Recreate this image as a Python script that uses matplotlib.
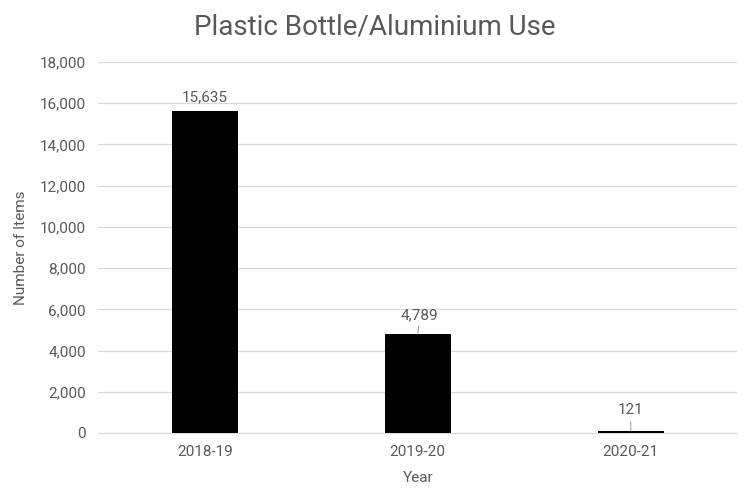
import matplotlib.pyplot as plt
from matplotlib.ticker import FuncFormatter

plt.rcParams['font.family'] = ['Roboto', 'DejaVu Sans']

# data
years = ["2018-19", "2019-20", "2020-21"]
items = [15635, 4789, 121]
yticks = list(range(0, 18001, 2000))

GREY = "#595959"
GRID = "#d9d9d9"

fig = plt.figure(figsize=(7.5, 5), dpi=100)
ax = fig.add_axes([0.131, 0.134, 0.852, 0.742])

x = list(range(len(years)))
bars = ax.bar(x, items, width=0.31, color="black", zorder=3)

ax.set_xlim(-0.5, 2.5)
ax.set_ylim(0, 18000)
ax.set_yticks(yticks)
ax.yaxis.set_major_formatter(FuncFormatter(lambda v, p: f"{int(v):,}"))
ax.set_xticks(x)
ax.set_xticklabels(years)
ax.grid(axis="y", color=GRID, lw=0.9, zorder=0)
ax.tick_params(length=0, labelsize=11, colors=GREY, pad=9)
for s in ["top", "right", "left"]:
    ax.spines[s].set_visible(False)
ax.spines["bottom"].set_color(GRID)

# data labels, the two smaller ones have leader lines like Excel draws
offsets = [(0, 10), (1.5, 14), (0, 14.5)]
leaders = [False, True, True]
for xi, v, off, lead in zip(x, items, offsets, leaders):
    kw = {}
    if lead:
        kw["arrowprops"] = dict(arrowstyle="-", color="#a6a6a6", lw=0.8,
                                shrinkA=1, shrinkB=0)
    ax.annotate(f"{v:,}", xy=(xi, v), xytext=off, textcoords="offset points",
                ha="center", va="center", fontsize=11, color=GREY, **kw)

fig.suptitle("Plastic Bottle/Aluminium Use", fontsize=20, color=GREY,
             x=0.5, y=0.945, va="center")
ax.set_xlabel("Year", fontsize=11, color=GREY, labelpad=8)
ax.set_ylabel("Number of Items", fontsize=11, color=GREY, labelpad=8)

fig.savefig("out.png", dpi=100)
